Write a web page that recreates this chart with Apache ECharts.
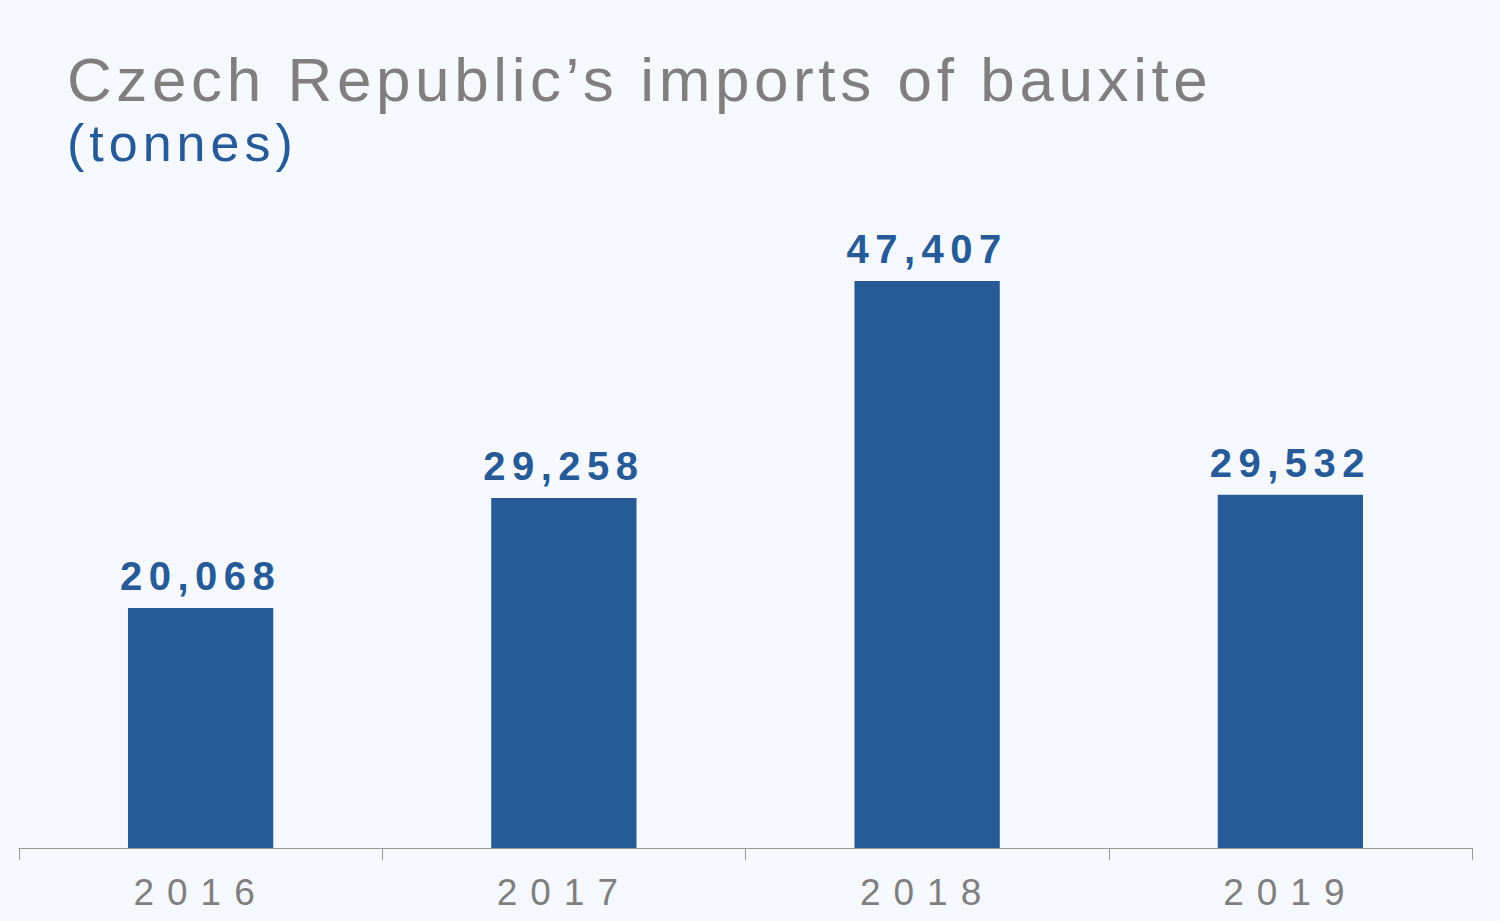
<!DOCTYPE html>
<html lang="en">
<head>
<meta charset="UTF-8">
<title>Czech Republic's imports of bauxite</title>
<script src="https://cdn.jsdelivr.net/npm/echarts@6/dist/echarts.min.js"></script>
<style>
  html, body { margin: 0; padding: 0; background: #f5f9fd; }
  /* spaced-out lettering, matched by font size */
  #main text[style*="62px"] { letter-spacing: 4.6px; }
  #main text[style*="52px"] { letter-spacing: 5px; }
  #main text[style*="40px"] { letter-spacing: 6.5px; }
  #main text[style*="37px"] { letter-spacing: 13px; }
</style>
</head>
<body>
<div id="main" style="width: 1500px;height:921px;"></div>
<script>
  const years = ['2016', '2017', '2018', '2019'];
  const imports = [20068, 29258, 47407, 29532];

  const blue = '#265b98';
  const grey = '#7f7f7f';
  const font = '"Liberation Sans", Arial, sans-serif';

  const myChart = echarts.init(document.getElementById('main'), null, {renderer: 'svg'});
  const option = {
    backgroundColor: '#f5f9fd',
    animation: false,
    title: [
      {
        text: 'Czech Republic\u2019s imports of bauxite',
        left: 67,
        top: 48,
        padding: 0,
        textStyle: {color: grey, fontSize: 62, fontWeight: 'normal', fontFamily: font}
      },
      {
        text: '(tonnes)',
        left: 67,
        top: 117,
        padding: 0,
        textStyle: {color: blue, fontSize: 52, fontWeight: 'normal', fontFamily: font}
      }
    ],
    grid: {
      left: 19,
      right: 28,
      top: 250,
      bottom: 73,
      containLabel: false
    },
    xAxis: {
      type: 'category',
      data: years,
      axisLine: {lineStyle: {color: '#999999', width: 1}},
      axisTick: {show: true, length: 12, lineStyle: {color: '#999999'}},
      axisLabel: {color: grey, fontSize: 37, fontFamily: font, margin: 26}
    },
    yAxis: {
      type: 'value',
      min: 0,
      max: 50000,
      show: false,
      splitLine: {show: false}
    },
    series: [
      {
        type: 'bar',
        data: imports,
        barWidth: '40%',
        itemStyle: {color: blue},
        label: {
          show: true,
          position: 'top',
          distance: 12,
          color: blue,
          fontSize: 40,
          fontWeight: 'bold',
          fontFamily: font,
          formatter: p => p.value.toLocaleString('en-US')
        }
      }
    ]
  };
  myChart.setOption(option);
</script>
</body>
</html>
